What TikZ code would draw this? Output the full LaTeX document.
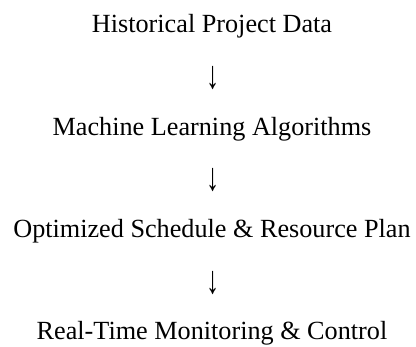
\documentclass[tikz,border=0pt]{standalone}
\usepackage{fontspec}
\setmainfont{Liberation Serif}
\usepackage{tikz}
\usetikzlibrary{positioning}
\tikzset{
    stage/.style={
      anchor=base,
      inner sep=0pt,
      text=black,
      font=\fontsize{26.2}{30}\selectfont
    },
    flowarrow/.style={
      anchor=center,
      inner sep=0pt,
      text=black,
      font=\fontsize{26.2}{30}\selectfont
    },
}
\newcommand{\downglyph}{\scalebox{1}[1.5]{↓}}

\begin{document}
\begin{tikzpicture}[x=1pt,y=1pt]
    \useasboundingbox (0,0) rectangle (416,-347);

    \draw (212,-33) node[stage] (S0) {Historical Project Data};
    \draw (213,-78) node[flowarrow] (A0) {\downglyph};
    \draw (212,-136) node[stage] (S1) {Machine Learning Algorithms};
    \draw (213,-180) node[flowarrow] (A1) {\downglyph};
    \draw (212,-238) node[stage] (S2) {Optimized Schedule \& Resource Plan};
    \draw (213,-283) node[flowarrow] (A2) {\downglyph};
    \draw (212,-340) node[stage] (S3) {Real-Time Monitoring \& Control};
  \end{tikzpicture}
\end{document}
